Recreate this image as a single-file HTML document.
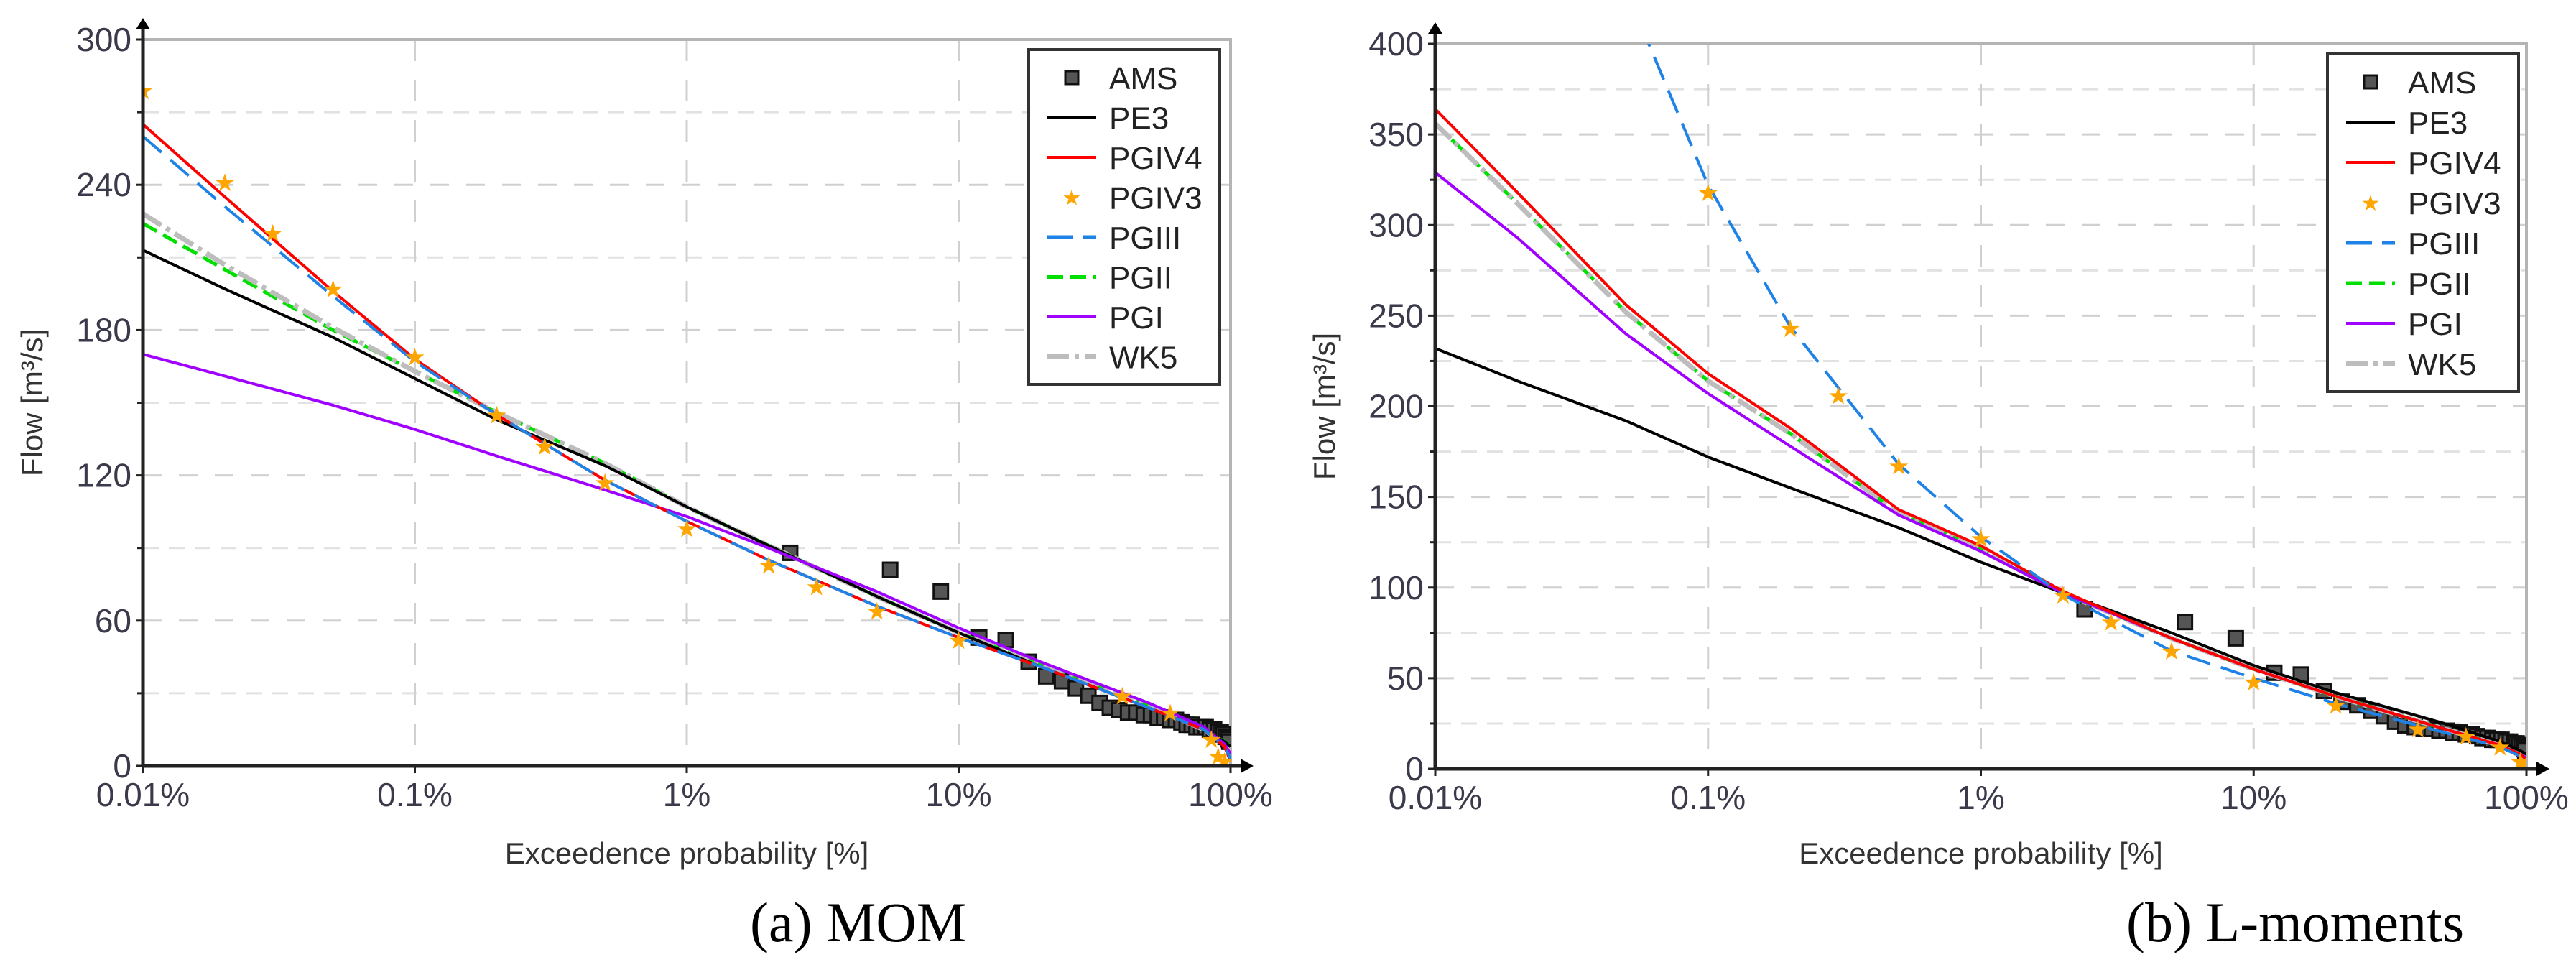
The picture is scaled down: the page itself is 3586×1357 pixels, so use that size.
<!DOCTYPE html>
<html><head><meta charset="utf-8"><style>
html,body{margin:0;padding:0;background:#fff;}
svg{display:block;}
</style></head><body>
<svg id="fig" width="3586" height="1357" viewBox="0 0 3586 1357" xmlns="http://www.w3.org/2000/svg" style="font-family:'Liberation Sans',sans-serif">
<defs>
<clipPath id="clipA"><rect x="199" y="55" width="1514" height="1011"/></clipPath>
<clipPath id="clipB"><rect x="1998" y="61" width="1519" height="1009"/></clipPath>
</defs>
</svg>
<script>
// ===== Shared data =====
const probTicks = [0.01, 0.1, 1, 10, 100];
const probTickLabels = ["0.01%", "0.1%", "1%", "10%", "100%"];
const curveProbs = [0.01, 0.02, 0.05, 0.1, 0.2, 0.5, 1, 2, 5, 10, 20, 50, 80, 95, 100];
const amsProbs = [2.4, 5.6, 8.6, 11.9, 14.9, 18.1, 21, 24, 27, 30, 33, 36, 39, 42, 45, 48, 51, 54, 57, 60, 63, 66, 69, 72, 75, 78, 81, 84, 87, 90, 92, 94, 96, 98, 99];
const amsFlows = [88, 81, 72, 53, 52, 43, 37, 35, 32, 29, 26, 24, 23, 22, 22, 21, 21, 20, 20, 19, 19, 18, 17, 17, 16, 16, 16, 15, 15, 14, 14, 13, 12, 11, 10];
const starProbsA = [0.01, 0.02, 0.03, 0.05, 0.1, 0.2, 0.3, 0.5, 1, 2, 3, 5, 10, 40, 60, 85, 90, 95];
const starFlowsA = [279, 241, 220, 197, 169, 145, 132, 117, 98, 83, 74, 64, 52, 29, 22, 11, 4, 2];
const starProbsB = [0.1, 0.2, 0.3, 0.5, 1, 2, 3, 5, 10, 20, 40, 60, 80, 95, 99];
const starFlowsB = [318, 243, 206, 167, 127, 96, 81, 65, 48, 35, 22, 18, 12, 4, 1];
// ===== Panel A (MOM) series =====
const pe3A   = [213, 197, 177, 160, 143, 124, 107, 91, 70, 55, 41, 24, 15, 10, 8];
const pgiv4A = [265, 235, 196, 168, 145, 118, 101, 85, 66, 53, 41, 24, 15, 8, 2];
const pgiiiA = [260, 231, 194, 167, 145, 118, 101, 85, 66, 53, 41, 24, 15, 8, 3];
const pgiiA  = [224, 205, 180, 163, 146, 125, 107, 91, 70, 55, 42, 25, 15, 10, 8];
const pgiA   = [170, 161, 149, 139, 128, 114, 103, 90, 72, 57, 43, 26, 16, 9, 5];
const wk5A   = [228, 207, 181, 163, 146, 125, 107, 91, 70, 55, 42, 25, 15, 9, 6];
const yTicksA = [0, 60, 120, 180, 240, 300];
// ===== Panel B (L-moments) series =====
const pe3B   = [232, 214, 192, 172, 155, 133, 114, 97, 75, 57, 42, 25, 15, 10, 8];
const pgiv4B = [364, 318, 256, 218, 188, 143, 123, 98, 72, 55, 40, 22, 13, 8, 5];
const pgiiiB = [620, 540, 430, 322, 244, 168, 128, 96, 65, 50, 36, 20, 12, 7, 4];
const pgiiB  = [356, 312, 252, 214, 185, 141, 121, 97, 72, 55, 40, 22, 13, 8, 5];
const pgiB   = [329, 293, 240, 207, 178, 140, 120, 97, 72, 55, 40, 22, 13, 8, 6];
const wk5B   = [356, 312, 252, 214, 185, 141, 121, 97, 72, 55, 40, 22, 13, 8, 5];
const yTicksB = [0, 50, 100, 150, 200, 250, 300, 350, 400];

const NS = "http://www.w3.org/2000/svg";
const svg = document.getElementById("fig");
function mk(tag, attrs, parent){
  const e = document.createElementNS(NS, tag);
  for (const k in attrs) e.setAttribute(k, attrs[k]);
  (parent || svg).appendChild(e);
  return e;
}

function panel(P){
  const g = mk("g", {});
  
  
  const xs = p => P.x0 + (Math.log10(p) + 2) / 4 * (P.x1 - P.x0);
  const ys = v => P.y0 - v / P.ymax * (P.y0 - P.y1);
  const step = P.yTicks[1] - P.yTicks[0];
  for (let i = 0; i < P.yTicks.length - 1; i++) {
    const v = P.yTicks[i] + step / 2;
    const l = mk("line", {x1:P.x0, x2:P.x1, y1:ys(v), y2:ys(v), stroke:"#e2e2e2", "stroke-width":3, "stroke-dasharray":"22 14"}, g);
    
    
    mk("line", {x1:P.x0-8, x2:P.x0, y1:ys(v), y2:ys(v), stroke:"#222", "stroke-width":3}, g);
  }
  P.yTicks.forEach((v, i) => {
    if (v > 0 && v < P.ymax) {
      const l = mk("line", {x1:P.x0, x2:P.x1, y1:ys(v), y2:ys(v), stroke:"#d0d0d0", "stroke-width":3, "stroke-dasharray":"26 24"}, g);
      
      
    }
    mk("line", {x1:P.x0-10, x2:P.x0, y1:ys(v), y2:ys(v), stroke:"#222", "stroke-width":3}, g);
    const t = mk("text", {x:P.x0-16, y:ys(v)+16, "text-anchor":"end", "font-size":46, fill:"#3a3a4a"}, g);
    t.textContent = v;
    
    
  });
  probTicks.forEach((p, i) => {
    if (i > 0 && i < probTicks.length - 1) {
      const l = mk("line", {x1:xs(p), x2:xs(p), y1:P.y1, y2:P.y0, stroke:"#d0d0d0", "stroke-width":3, "stroke-dasharray":"30 26"}, g);
      
      
    }
    mk("line", {x1:xs(p), x2:xs(p), y1:P.y0, y2:P.y0+10, stroke:"#222", "stroke-width":3}, g);
    const t = mk("text", {x:xs(p), y:P.y0+56, "text-anchor":"middle", "font-size":46, fill:"#3a3a4a"}, g);
    t.textContent = probTickLabels[i];
    
    
  });
  const fr = mk("polyline", {points:`${P.x0},${P.y1} ${P.x1},${P.y1} ${P.x1},${P.y0}`, fill:"none", stroke:"#b4b4b4", "stroke-width":4}, g);
  
  

  const cg = mk("g", {"clip-path":`url(#${P.clip})`}, g);
  amsProbs.forEach((p, i) => {
    const r = mk("rect", {x:xs(p)-10, y:ys(amsFlows[i])-10, width:20, height:20, fill:"#555", stroke:"#111", "stroke-width":3}, cg);
    
    
  });
  const styles = [
    ["pgii",  P.pgii,  "#00e000", 5, "22 10"],
    ["wk5",   P.wk5,   "#bdbdbd", 7, "30 8 6 8"],
    ["pe3",   P.pe3,   "#000",    4, ""],
    ["pgi",   P.pgi,   "#a000ff", 4, ""],
    ["pgiv4", P.pgiv4, "#ff0000", 4, ""],
    ["pgiii", P.pgiii, "#1e82e6", 4, "34 16"],
  ];
  styles.forEach(s => {
    const pts = curveProbs.map((p, i) => `${xs(p).toFixed(1)},${ys(s[1][i]).toFixed(1)}`).join(" ");
    const pl = mk("polyline", {points:pts, fill:"none", stroke:s[2], "stroke-width":s[3], "stroke-dasharray":s[4], "stroke-linejoin":"round"}, cg);
    
    
  });
  P.starP.forEach((p, i) => {
    const t = mk("text", {x:xs(p), y:ys(P.starF[i])+12, "text-anchor":"middle", "font-size":34, fill:"#ffa500", style:"font-family:'DejaVu Sans',sans-serif"}, cg);
    t.textContent = "★";
    
    
  });
  const ya = mk("line", {x1:P.x0, x2:P.x0, y1:P.y0, y2:P.y1-22, stroke:"#222", "stroke-width":5}, g);
  
  
  mk("polygon", {points:`${P.x0-10},${P.y1-14} ${P.x0+10},${P.y1-14} ${P.x0},${P.y1-30}`, fill:"#000"}, g);
  const xa = mk("line", {x1:P.x0, x2:P.x1+22, y1:P.y0, y2:P.y0, stroke:"#222", "stroke-width":5}, g);
  
  
  mk("polygon", {points:`${P.x1+14},${P.y0-10} ${P.x1+14},${P.y0+10} ${P.x1+32},${P.y0}`, fill:"#000"}, g);
  const xt = mk("text", {x:(P.x0+P.x1)/2, y:1202, "text-anchor":"middle", "font-size":42, fill:"#333"}, g);
  xt.textContent = "Exceedence probability [%]";
  
  
  const yt = mk("text", {x:0, y:0, "text-anchor":"middle", "font-size":42, fill:"#333", transform:`translate(${P.x0-140},${(P.y0+P.y1)/2}) rotate(-90)`}, g);
  yt.textContent = "Flow [m³/s]";
  
  
  const cap = mk("text", {x:P.capX, y:1310, "font-size":78, fill:"#000", style:"font-family:'Liberation Serif',serif"}, g);
  cap.textContent = P.caption;
  
  
  const L = P.leg;
  const lg = mk("g", {}, g);
  
  
  mk("rect", {x:L.x, y:L.y, width:L.w, height:L.h, fill:"#fff", stroke:"#333", "stroke-width":4}, lg);
  const names = ["AMS","PE3","PGIV4","PGIV3","PGIII","PGII","PGI","WK5"];
  const lstyle = [null, ["#000",4,""], ["#ff0000",4,""], null, ["#1e82e6",5,"36 14"], ["#00e000",5,"22 10"], ["#a000ff",4,""], ["#bdbdbd",7,"30 8 6 8"]];
  names.forEach((n, i) => {
    const cy = L.y + 39 + i * L.dy;
    const eg = mk("g", {}, lg);
    
    
    const sx = L.x + 26, ex = L.x + 94;
    if (i === 0) mk("rect", {x:(sx+ex)/2-9, y:cy-9, width:18, height:18, fill:"#555", stroke:"#111", "stroke-width":3}, eg);
    else if (i === 3) { const s = mk("text", {x:(sx+ex)/2, y:cy+11, "text-anchor":"middle", "font-size":30, fill:"#ffa500", style:"font-family:'DejaVu Sans',sans-serif"}, eg); s.textContent = "★"; }
    else mk("line", {x1:sx, x2:ex, y1:cy, y2:cy, stroke:lstyle[i][0], "stroke-width":lstyle[i][1], "stroke-dasharray":lstyle[i][2]}, eg);
    const t = mk("text", {x:L.x+112, y:cy+16, "font-size":44, fill:"#222"}, eg);
    t.textContent = n;
  });
}

panel({name:"panel-a-mom", x0:199, x1:1713, y0:1066, y1:55, ymax:300, yTicks:yTicksA, clip:"clipA",
  pe3:pe3A, pgiv4:pgiv4A, pgiii:pgiiiA, pgii:pgiiA, pgi:pgiA, wk5:wk5A, starP:starProbsA, starF:starFlowsA,
  caption:"(a) MOM", capX:1044, leg:{x:1432, y:69, w:266, h:466, dy:55.5}});
panel({name:"panel-b-lmoments", x0:1998, x1:3517, y0:1070, y1:61, ymax:400, yTicks:yTicksB, clip:"clipB",
  pe3:pe3B, pgiv4:pgiv4B, pgiii:pgiiiB, pgii:pgiiB, pgi:pgiB, wk5:wk5B, starP:starProbsB, starF:starFlowsB,
  caption:"(b) L-moments", capX:2960, leg:{x:3240, y:75, w:266, h:470, dy:56}});
</script>
</body></html>
